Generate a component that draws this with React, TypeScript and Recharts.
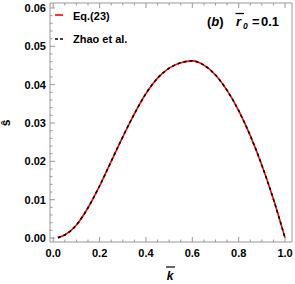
import { LineChart, Line, XAxis, YAxis } from 'recharts';

// k-bar values and the two curves (they coincide)
const kBar = [0.02, 0.05, 0.1, 0.15, 0.2, 0.25, 0.3, 0.35, 0.4, 0.45, 0.5, 0.55, 0.6, 0.65, 0.7, 0.75, 0.8, 0.85, 0.9, 0.95, 1.0];
const sEq23 = [0.0001, 0.0008, 0.0034, 0.0079, 0.0136, 0.02, 0.0264, 0.0324, 0.0377, 0.0417, 0.0443, 0.0457, 0.0462, 0.0451, 0.0425, 0.0385, 0.0332, 0.0267, 0.019, 0.0101, 0.0];
const sZhao = [0.0001, 0.0008, 0.0034, 0.0079, 0.0136, 0.02, 0.0264, 0.0324, 0.0377, 0.0417, 0.0443, 0.0457, 0.0462, 0.0451, 0.0425, 0.0385, 0.0332, 0.0267, 0.019, 0.0101, 0.0];

const xMajor = [0, 0.2, 0.4, 0.6, 0.8, 1.0];
const xTicks = [0, 0.05, 0.1, 0.15, 0.2, 0.25, 0.3, 0.35, 0.4, 0.45, 0.5, 0.55, 0.6, 0.65, 0.7, 0.75, 0.8, 0.85, 0.9, 0.95, 1.0];
const yMajor = [0, 0.01, 0.02, 0.03, 0.04, 0.05, 0.06];
const yTicks = [0, 0.002, 0.004, 0.006, 0.008, 0.01, 0.012, 0.014, 0.016, 0.018, 0.02, 0.022, 0.024, 0.026, 0.028, 0.03, 0.032, 0.034, 0.036, 0.038, 0.04, 0.042, 0.044, 0.046, 0.048, 0.05, 0.052, 0.054, 0.056, 0.058, 0.06];

const rows = kBar.map((k, i) => ({ k, eq: sEq23[i], zhao: sZhao[i] }));

const FRAME = '#999999';
const FONT = '"Liberation Sans", Arial, sans-serif';

const isMajor = (v: number, majors: number[]) => majors.some((m) => Math.abs(m - v) < 1e-9);

// ticks point inward (Mathematica frame style), labels only on bottom/left
function makeTick(side: 'bottom' | 'top' | 'left' | 'right') {
  return (props: any) => {
    const { x, y, payload } = props;
    const v = payload.value as number;
    const horiz = side === 'bottom' || side === 'top';
    const major = isMajor(v, horiz ? xMajor : yMajor);
    const len = major ? 5 : 2.5;
    let line;
    if (side === 'bottom') line = <line x1={x} x2={x} y1={y} y2={y - len} />;
    else if (side === 'top') line = <line x1={x} x2={x} y1={y} y2={y + len} />;
    else if (side === 'left') line = <line x1={x} x2={x + len} y1={y} y2={y} />;
    else line = <line x1={x} x2={x - len} y1={y} y2={y} />;
    let label = null;
    if (major && side === 'bottom') {
      label = (
        <text x={x} y={y + 15} textAnchor="middle" fontSize={11} fontWeight="bold" fill="#000" stroke="none">
          {v.toFixed(1)}
        </text>
      );
    } else if (major && side === 'left') {
      label = (
        <text x={x - 4} y={y} dy="0.36em" textAnchor="end" fontSize={11} fontWeight="bold" fill="#000" stroke="none">
          {v.toFixed(2)}
        </text>
      );
    }
    return (
      <g stroke={FRAME} strokeWidth={1}>
        {line}
        {label}
      </g>
    );
  };
}

export default function App() {
  return (
    <div style={{ position: 'absolute', left: 0, top: 0, width: 295, height: 284, background: '#fff', fontFamily: FONT }}>
      <LineChart width={295} height={284} data={rows} margin={{ top: 2, right: 2, bottom: 41, left: 49 }}>
        <XAxis xAxisId="b" dataKey="k" type="number" domain={[-0.014, 1.03]} ticks={xTicks} interval={0}
          orientation="bottom" height={1} tickSize={0} tickMargin={0} stroke={FRAME} tick={makeTick('bottom')} />
        <XAxis xAxisId="t" dataKey="k" type="number" domain={[-0.014, 1.03]} ticks={xTicks} interval={0}
          orientation="top" height={1} tickSize={0} tickMargin={0} stroke={FRAME} tick={makeTick('top')} />
        <YAxis yAxisId="l" type="number" domain={[-0.00104, 0.0613]} ticks={yTicks} interval={0}
          orientation="left" width={1} tickSize={0} tickMargin={0} stroke={FRAME} tick={makeTick('left')} />
        <YAxis yAxisId="r" type="number" domain={[-0.00104, 0.0613]} ticks={yTicks} interval={0}
          orientation="right" width={1} tickSize={0} tickMargin={0} stroke={FRAME} tick={makeTick('right')} />
        <Line xAxisId="b" yAxisId="l" dataKey="eq" name="Eq.(23)" type="monotone" stroke="#ff0000" strokeWidth={1.6}
          dot={false} isAnimationActive={false} />
        <Line xAxisId="b" yAxisId="l" dataKey="zhao" name="Zhao et al." type="monotone" stroke="#000000" strokeWidth={1.6}
          strokeDasharray="3 3" dot={false} isAnimationActive={false} />
      </LineChart>
      <svg width={295} height={284} style={{ position: 'absolute', left: 0, top: 0, pointerEvents: 'none' }}>
        {/* legend */}
        <line x1={55} x2={63} y1={15} y2={15} stroke="#ff0000" strokeWidth={1.6} />
        <text x={73} y={20} fontSize={11} fontWeight="bold" fontFamily={FONT}>Eq.(23)</text>
        <line x1={55} x2={63} y1={39} y2={39} stroke="#000" strokeWidth={1.6} strokeDasharray="3 2" />
        <text x={73} y={43} fontSize={11} fontWeight="bold" fontFamily={FONT}>Zhao et al.</text>
        {/* panel annotation */}
        <text x={207} y={26} fontSize={13} fontWeight="bold" fontFamily={FONT}>
          (<tspan fontStyle="italic">b</tspan>)
        </text>
        <text x={236} y={26} fontSize={13} fontWeight="bold" fontStyle="italic" fontFamily={FONT}>r</text>
        <line x1={235.5} x2={244} y1={13.5} y2={13.5} stroke="#000" strokeWidth={1.3} />
        <text x={243} y={29} fontSize={8.5} fontWeight="bold" fontStyle="italic" fontFamily={FONT}>0</text>
        <text x={252} y={26} fontSize={13} fontWeight="bold" fontFamily={FONT}>=</text>
        <text x={261} y={26} fontSize={13} fontWeight="bold" fontFamily={FONT}>0.1</text>
        {/* axis labels */}
        <text x={170} y={280} textAnchor="middle" fontSize={12} fontWeight="bold" fontStyle="italic" fontFamily={FONT}>k</text>
        <line x1={166} x2={175} y1={267} y2={267} stroke="#000" strokeWidth={1.2} />
        <text x={0} y={0} transform="translate(10,123) rotate(-90)" textAnchor="middle" fontSize={12} fontWeight="bold" fontFamily={FONT}>ŝ</text>
      </svg>
    </div>
  );
}
